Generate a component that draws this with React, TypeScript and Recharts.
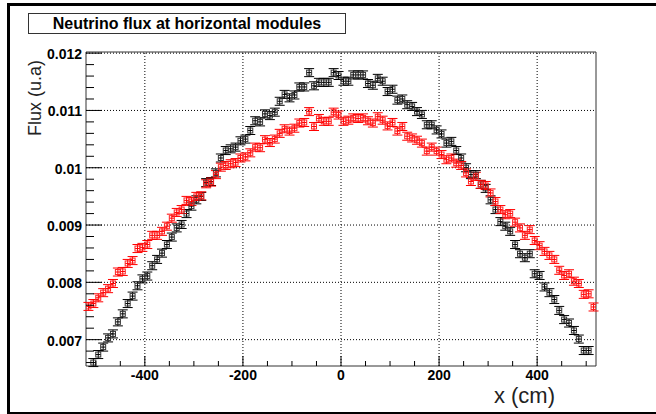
import { ErrorBar, ReferenceArea, ReferenceLine, Scatter, ScatterChart, XAxis, YAxis } from "recharts";

// bin centres (cm)
const positions = [
  -515, -505, -495, -485, -475, -465, -455, -445, -435, -425,
  -415, -405, -395, -385, -375, -365, -355, -345, -335, -325,
  -315, -305, -295, -285, -275, -265, -255, -245, -235, -225,
  -215, -205, -195, -185, -175, -165, -155, -145, -135, -125,
  -115, -105, -95, -85, -75, -65, -55, -45, -35, -25,
  -15, -5, 5, 15, 25, 35, 45, 55, 65, 75,
  85, 95, 105, 115, 125, 135, 145, 155, 165, 175,
  185, 195, 205, 215, 225, 235, 245, 255, 265, 275,
  285, 295, 305, 315, 325, 335, 345, 355, 365, 375,
  385, 395, 405, 415, 425, 435, 445, 455, 465, 475,
  485, 495, 505, 515,
];

const blackFlux = [
  null, 0.0066, 0.00674, 0.00687, 0.00703, 0.0071, 0.00731, 0.00745, 0.00763, 0.00776,
  0.00794, 0.00806, 0.00811, 0.00829, 0.0084, 0.00851, 0.00866, 0.00879, 0.00895, 0.00901,
  0.0092, 0.00933, 0.00944, 0.0095, 0.00974, 0.00976, 0.00991, 0.01017, 0.0103, 0.01033,
  0.01036, 0.01047, 0.0105, 0.01065, 0.01082, 0.0108, 0.01094, 0.01091, 0.01097, 0.01116,
  0.01128, 0.01122, 0.01127, 0.01141, 0.01141, 0.01166, 0.01143, 0.01149, 0.01149, 0.01149,
  0.01166, 0.01161, 0.01151, 0.01151, 0.01162, 0.01162, 0.01162, 0.01147, 0.01144, 0.01156,
  0.01151, 0.01133, 0.01137, 0.01118, 0.0112, 0.0111, 0.01107, 0.01098, 0.01093, 0.01075,
  0.01075, 0.01066, 0.01059, 0.01043, 0.01046, 0.0103, 0.01017, 0.01, 0.00988, 0.00988,
  0.00971, 0.00964, 0.00944, 0.00927, 0.00906, 0.00898, 0.00889, 0.00866, 0.0085, 0.00843,
  0.0085, 0.00815, 0.00812, 0.00792, 0.00782, 0.0077, 0.00751, 0.00735, 0.00729, 0.00716,
  0.00701, 0.00681, 0.00681, null,
];

const redFlux = [
  0.00758, 0.00763, 0.00773, 0.00782, 0.00789, 0.00798, 0.00818, 0.00819, 0.00833, 0.00838,
  0.00859, 0.00861, 0.00866, 0.00882, 0.00882, 0.00889, 0.00898, 0.00912, 0.00922, 0.00927,
  0.00943, 0.00941, 0.0095, 0.00951, 0.00972, 0.00975, 0.00988, 0.01001, 0.01004, 0.01007,
  0.01009, 0.01017, 0.01019, 0.01026, 0.01036, 0.01035, 0.01049, 0.01044, 0.0105, 0.0106,
  0.01068, 0.01064, 0.01069, 0.01078, 0.01079, 0.01098, 0.01072, 0.01086, 0.01081, 0.01081,
  0.01097, 0.01092, 0.01081, 0.01083, 0.01087, 0.01086, 0.01087, 0.01082, 0.01078, 0.01089,
  0.01083, 0.01073, 0.01079, 0.01064, 0.01072, 0.01055, 0.01052, 0.01048, 0.01043, 0.01029,
  0.01036, 0.01029, 0.01023, 0.01014, 0.01017, 0.01008, 0.01004, 0.00991, 0.00976, 0.00985,
  0.00971, 0.00969, 0.00956, 0.00941, 0.00927, 0.00918, 0.0092, 0.00905, 0.00895, 0.00882,
  0.00892, 0.00873, 0.00864, 0.00854, 0.00847, 0.0084, 0.00821, 0.00812, 0.00815, 0.00802,
  0.00798, 0.00779, 0.0078, 0.00757,
];

const FLUX_ERR = 0.00007;
const HALF_BIN = 5;

const xMajor = [-400, -200, 0, 200, 400];
const xTicks = [
  -500, -450, -400, -350, -300, -250, -200, -150, -100, -50, 0,
  50, 100, 150, 200, 250, 300, 350, 400, 450, 500,
];
const yMajor = [0.007, 0.008, 0.009, 0.01, 0.011, 0.012];
const yTicks = [
  0.0066, 0.0068, 0.007, 0.0072, 0.0074, 0.0076, 0.0078, 0.008, 0.0082, 0.0084,
  0.0086, 0.0088, 0.009, 0.0092, 0.0094, 0.0096, 0.0098, 0.01, 0.0102, 0.0104,
  0.0106, 0.0108, 0.011, 0.0112, 0.0114, 0.0116, 0.0118, 0.012,
];

const X_DOMAIN = [-520, 520];
const Y_DOMAIN = [0.00654, 0.01202];

const font = "'Liberation Sans', Arial, Helvetica, sans-serif";

function toRows(values: (number | null)[]) {
  return positions
    .map((x, i) => ({ x, y: values[i], ex: HALF_BIN, ey: FLUX_ERR }))
    .filter((r) => r.y !== null);
}

const blackRows = toRows(blackFlux);
const redRows = toRows(redFlux);

function isMajorY(v: number) {
  return yMajor.some((m) => Math.abs(m - v) < 1e-9);
}

function XTick(props: any) {
  const { x, y, payload } = props;
  const major = xMajor.includes(payload.value);
  return (
    <g>
      <line x1={x} x2={x} y1={y} y2={y - (major ? 10 : 5)} stroke="#000" />
      {major && (
        <text x={x} y={y + 14} textAnchor="middle" fontFamily={font} fontWeight="bold" fontSize={14} fill="#000">
          {payload.value}
        </text>
      )}
    </g>
  );
}

function YTick(props: any) {
  const { x, y, payload } = props;
  const major = isMajorY(payload.value);
  return (
    <g>
      <line x1={x} x2={x + (major ? 16 : 8)} y1={y} y2={y} stroke="#000" />
      {major && (
        <text x={x - 4} y={y + 1} textAnchor="end" dominantBaseline="central" fontFamily={font} fontWeight="bold" fontSize={14} fill="#000">
          {String(Number(payload.value.toFixed(3)))}
        </text>
      )}
    </g>
  );
}

function squareMarker(color: string) {
  return (props: any) => {
    const { cx, cy } = props;
    return <rect x={cx - 2.5} y={cy - 2.5} width={5} height={5} fill="none" stroke={color} strokeWidth={1} />;
  };
}

export default function App() {
  return (
    <div style={{ position: "absolute", left: 0, top: 0, width: 656, height: 414, background: "#fff", overflow: "hidden", fontFamily: font }}>
      <div
        style={{
          position: "absolute", left: 7, top: 3, width: 670, height: 411, boxSizing: "border-box",
          borderTop: "3px solid #000", borderLeft: "3px solid #000", borderBottom: "2px solid #000",
        }}
      />
      <ScatterChart width={656} height={414} margin={{ top: 52, right: 60, bottom: 0, left: 0 }}>
        <XAxis
          dataKey="x"
          type="number"
          domain={X_DOMAIN}
          allowDataOverflow
          ticks={xTicks}
          interval={0}
          height={48}
          axisLine={false}
          tickLine={false}
          tickSize={0}
          tickMargin={0}
          tick={XTick}
        />
        <YAxis
          dataKey="y"
          type="number"
          domain={Y_DOMAIN}
          allowDataOverflow
          ticks={yTicks}
          interval={0}
          width={86}
          axisLine={false}
          tickLine={false}
          tickSize={0}
          tickMargin={0}
          tick={YTick}
        />
        {xMajor.map((v) => (
          <ReferenceLine key={"gx" + v} x={v} stroke="#000" strokeDasharray="1 2" />
        ))}
        {yMajor.map((v) => (
          <ReferenceLine key={"gy" + v} y={v} stroke="#000" strokeDasharray="1 2" />
        ))}
        <ReferenceArea x1={X_DOMAIN[0]} x2={X_DOMAIN[1]} y1={Y_DOMAIN[0]} y2={Y_DOMAIN[1]} fill="none" stroke="#333" strokeWidth={1} fillOpacity={0} />
        <Scatter data={blackRows} isAnimationActive={false} shape={squareMarker("#333")}>
          <ErrorBar dataKey="ey" direction="y" width={5} stroke="#000" strokeWidth={1} isAnimationActive={false} />
          <ErrorBar dataKey="ex" direction="x" width={0} stroke="#000" strokeWidth={1} isAnimationActive={false} />
        </Scatter>
        <Scatter data={redRows} isAnimationActive={false} shape={squareMarker("#f22")}>
          <ErrorBar dataKey="ey" direction="y" width={5} stroke="#f00" strokeWidth={1} isAnimationActive={false} />
          <ErrorBar dataKey="ex" direction="x" width={0} stroke="#f00" strokeWidth={1} isAnimationActive={false} />
        </Scatter>
      </ScatterChart>
      <div
        style={{
          position: "absolute", left: 28, top: 13, width: 318, height: 21, boxSizing: "border-box",
          border: "1px solid #333", background: "#fff", fontWeight: "bold", fontSize: 16,
          lineHeight: "19px", textAlign: "center", color: "#000",
        }}
      >
        Neutrino flux at horizontal modules
      </div>
      <div
        style={{
          position: "absolute", left: 35, top: 98, transform: "translate(-50%, -50%) rotate(-90deg)",
          fontSize: 18, color: "#222", whiteSpace: "nowrap",
        }}
      >
        Flux (u.a)
      </div>
      <div
        style={{
          position: "absolute", right: 656 - 555, top: 388, fontSize: 22, color: "#222", whiteSpace: "nowrap", lineHeight: "16px",
        }}
      >
        x (cm)
      </div>
    </div>
  );
}
